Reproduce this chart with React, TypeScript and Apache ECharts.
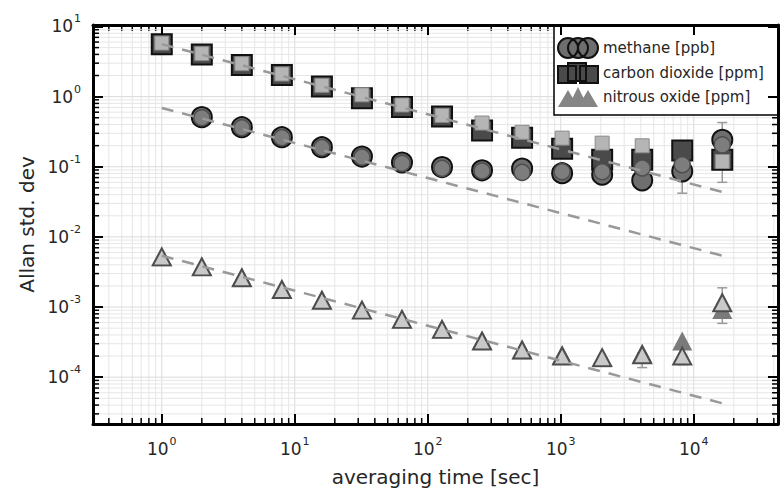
import React, { useEffect, useRef } from 'react';
import * as echarts from 'echarts';

// averaging time [sec]
const tau = [1, 2, 4, 8, 16, 32, 64, 128, 256, 512, 1024, 2048, 4096, 8192, 16384];

// carbon dioxide [ppm] (dark squares = legend series, light squares = second set)
const co2Dark = [5.6, 4.0, 2.83, 2.04, 1.39, 0.95, 0.71, 0.52, 0.33, 0.26, 0.18, 0.126, 0.126, 0.17, 0.126];
const co2Light = [5.8, 4.1, 2.95, 2.1, 1.45, 1.06, 0.76, 0.54, 0.42, 0.31, 0.256, 0.217, 0.199, 0.095, 0.119];

// methane [ppb] (no value at tau = 1)
const ch4Dark = [null, 0.51, 0.367, 0.264, 0.19, 0.14, 0.115, 0.099, 0.089, 0.094, 0.081, 0.077, 0.064, 0.086, 0.242];
const ch4Light = [null, 0.5, 0.36, 0.26, 0.187, 0.137, 0.112, 0.095, 0.087, 0.083, 0.085, 0.085, 0.096, 0.107, 0.205];

// nitrous oxide [ppm]
const n2oDark = [0.0052, 0.0038, 0.0027, 0.0018, 0.00127, 0.00092, 0.00068, 0.00049, 0.00034, 0.000246, 0.00021, 0.00019, 0.00022, 0.000327, 0.000925];
const n2oLight = [0.00519, 0.00374, 0.00261, 0.00178, 0.00125, 0.000903, 0.000667, 0.00048, 0.000327, 0.000244, 0.0002, 0.00019, 0.000209, 0.0002, 0.00115];

// dashed reference lines (tau^-1/2), end points
const fitTau = [1, 16384];
const co2Fit = [5.6, 0.0437];
const ch4Fit = [0.69, 0.0054];
const n2oFit = [0.0054, 0.0000425];

// error bars
const errTau = [4096, 8192, 8192, 16384, 16384];
const errLow = [0.000137, 0.042, 0.000151, 0.06, 0.000585];
const errHigh = [0.00022, 0.1, 0.0002, 0.427, 0.00188];

// axis ranges
const xMin = 0.304;
const xMax = 43000;
const yMin = 2.15e-5;
const yMax = 10.5;

const legendNames = ['methane [ppb]', 'carbon dioxide [ppm]', 'nitrous oxide [ppm]'];

const FONT = 'DejaVu Sans';
const TXT = '#262626';

function gridValues(lo: number, hi: number) {
  const out: number[][] = [];
  for (let e = Math.floor(Math.log10(lo)); e <= Math.ceil(Math.log10(hi)); e++) {
    for (let m = 1; m <= 9; m++) {
      const v = m * Math.pow(10, e);
      if (v > lo && v < hi) out.push([v, m === 1 ? 1 : 0]);
    }
  }
  return out;
}

function pairs(xs: number[], ys: (number | null)[]) {
  const out: number[][] = [];
  xs.forEach((x, i) => {
    const y = ys[i];
    if (y != null) out.push([x, y]);
  });
  return out;
}

function powLabel(v: number) {
  const l = Math.log10(v);
  const e = Math.round(l);
  if (Math.abs(l - e) > 0.01) return '';
  return '{b|10}{s|' + e + '}';
}

const rich = {
  b: { fontSize: 17, fontFamily: FONT, color: TXT, lineHeight: 26 },
  s: { fontSize: 11, fontFamily: FONT, color: TXT, verticalAlign: 'top', padding: [0, 0, 0, 1] },
};

export default function App() {
  const ref = useRef<HTMLDivElement>(null);
  useEffect(() => {
    if (!ref.current) return;
    const chart = echarts.init(ref.current, null, { renderer: 'svg' });

    const xGrid = gridValues(xMin, xMax).map((d) => [d[0], 1, d[1]]);
    const yGrid = gridValues(yMin, yMax).map((d) => [1, d[0], d[1]]);

    const axisCommon = {
      type: 'log',
      logBase: 10,
      z: 10,
      axisLine: { show: true, onZero: false, lineStyle: { color: '#000', width: 3 } },
      axisTick: { show: true, inside: true, length: 10, lineStyle: { color: '#000', width: 2 } },
      splitLine: { show: false },
    };

    const tickLen = 6;
    const gridColorMinor = '#e6e6e6';
    const gridColorMajor = '#dadada';

    const option: any = {
      animation: false,
      backgroundColor: '#fff',
      grid: { left: 93, right: 2, top: 25, bottom: 67, containLabel: false },
      xAxis: [
        {
          ...axisCommon,
          min: xMin,
          max: xMax,
          position: 'bottom',
          name: 'averaging time [sec]',
          nameLocation: 'middle',
          nameGap: 43,
          nameTextStyle: { fontSize: 20, fontFamily: FONT, color: TXT },
          axisLabel: { show: true, margin: 12, formatter: powLabel, rich },
        },
        {
          ...axisCommon,
          min: xMin,
          max: xMax,
          position: 'top',
          axisLabel: { show: false },
        },
      ],
      yAxis: [
        {
          ...axisCommon,
          min: yMin,
          max: yMax,
          position: 'left',
          name: 'Allan std. dev',
          nameLocation: 'middle',
          nameGap: 56,
          nameTextStyle: { fontSize: 20, fontFamily: FONT, color: TXT },
          axisLabel: { show: true, margin: 12, formatter: powLabel, rich },
        },
        {
          ...axisCommon,
          min: yMin,
          max: yMax,
          position: 'right',
          axisLabel: { show: false },
        },
      ],
      legend: {
        orient: 'vertical',
        left: 554,
        top: 25,
        selectedMode: false,
        itemWidth: 40,
        itemHeight: 20,
        itemGap: 3,
        padding: [12, 14, 8, 3],
        backgroundColor: '#fff',
        borderColor: '#000',
        borderWidth: 1.5,
        borderRadius: 0,
        textStyle: { fontFamily: FONT, fontSize: 15, color: TXT },
        data: [
          {
            name: legendNames[0],
            icon: 'path://M0,10a10,10 0 1,0 20,0a10,10 0 1,0 -20,0zM10,10a10,10 0 1,0 20,0a10,10 0 1,0 -20,0zM20,10a10,10 0 1,0 20,0a10,10 0 1,0 -20,0z',
            itemStyle: { color: '#6e6e6e', borderColor: '#111', borderWidth: 2 },
          },
          {
            name: legendNames[1],
            icon: 'path://M0,3h18v17h-18zM10,0h18v18h-18zM22,3h18v17h-18z',
            itemStyle: { color: '#4a4a4a', borderColor: '#111', borderWidth: 2 },
          },
          {
            name: legendNames[2],
            icon: 'path://M0,20L10,3L20,20zM10,20L20,0L30,20zM20,20L30,3L40,20z',
            itemStyle: { color: '#858585', borderColor: '#858585', borderWidth: 0 },
          },
        ],
      },
      series: [
        {
          name: 'xgrid',
          type: 'custom',
          silent: true,
          z: 1,
          xAxisIndex: 0,
          yAxisIndex: 0,
          data: xGrid,
          encode: { x: 0, y: 1 },
          renderItem: (params: any, api: any) => {
            const p = api.coord([api.value(0), 1]);
            const cs = params.coordSys;
            const major = api.value(2) === 1;
            const children: any[] = [
              {
                type: 'line',
                shape: { x1: p[0], y1: cs.y, x2: p[0], y2: cs.y + cs.height },
                style: { stroke: major ? gridColorMajor : gridColorMinor, lineWidth: 1 },
              },
            ];
            if (!major) {
              children.push(
                { type: 'line', shape: { x1: p[0], y1: cs.y + cs.height, x2: p[0], y2: cs.y + cs.height - tickLen }, style: { stroke: '#000', lineWidth: 1.5 } },
                { type: 'line', shape: { x1: p[0], y1: cs.y, x2: p[0], y2: cs.y + tickLen }, style: { stroke: '#000', lineWidth: 1.5 } }
              );
            }
            return { type: 'group', children };
          },
        },
        {
          name: 'ygrid',
          type: 'custom',
          silent: true,
          z: 1,
          xAxisIndex: 0,
          yAxisIndex: 0,
          data: yGrid,
          encode: { x: 0, y: 1 },
          renderItem: (params: any, api: any) => {
            const p = api.coord([1, api.value(1)]);
            const cs = params.coordSys;
            const major = api.value(2) === 1;
            const children: any[] = [
              {
                type: 'line',
                shape: { x1: cs.x, y1: p[1], x2: cs.x + cs.width, y2: p[1] },
                style: { stroke: major ? gridColorMajor : gridColorMinor, lineWidth: 1 },
              },
            ];
            if (!major) {
              children.push(
                { type: 'line', shape: { x1: cs.x, y1: p[1], x2: cs.x + tickLen, y2: p[1] }, style: { stroke: '#000', lineWidth: 1.5 } },
                { type: 'line', shape: { x1: cs.x + cs.width, y1: p[1], x2: cs.x + cs.width - tickLen, y2: p[1] }, style: { stroke: '#000', lineWidth: 1.5 } }
              );
            }
            return { type: 'group', children };
          },
        },
        {
          name: 'errors',
          type: 'custom',
          silent: true,
          z: 2,
          data: errTau.map((t, i) => [t, errLow[i], errHigh[i]]),
          encode: { x: 0, y: [1, 2] },
          renderItem: (params: any, api: any) => {
            const pl = api.coord([api.value(0), api.value(1)]);
            const ph = api.coord([api.value(0), api.value(2)]);
            const w = 5;
            const st = { stroke: '#9a9a9a', lineWidth: 1.5 };
            return {
              type: 'group',
              children: [
                { type: 'line', shape: { x1: pl[0], y1: pl[1], x2: ph[0], y2: ph[1] }, style: st },
                { type: 'line', shape: { x1: pl[0] - w, y1: pl[1], x2: pl[0] + w, y2: pl[1] }, style: st },
                { type: 'line', shape: { x1: ph[0] - w, y1: ph[1], x2: ph[0] + w, y2: ph[1] }, style: st },
              ],
            };
          },
        },
        {
          name: legendNames[1],
          type: 'scatter',
          silent: true,
          z: 3,
          symbol: 'rect',
          symbolSize: 20,
          itemStyle: { color: '#4a4a4a', borderColor: '#111', borderWidth: 2, opacity: 1 },
          data: pairs(tau, co2Dark),
        },
        {
          name: 'carbon dioxide 2',
          type: 'scatter',
          silent: true,
          z: 3,
          symbol: 'rect',
          symbolSize: 14,
          itemStyle: { color: '#b5b5b5', borderColor: '#8a8a8a', borderWidth: 1, opacity: 1 },
          data: pairs(tau, co2Light),
        },
        {
          name: legendNames[2],
          type: 'scatter',
          silent: true,
          z: 3,
          symbol: 'triangle',
          symbolSize: [20, 19],
          itemStyle: { color: '#7a7a7a', borderWidth: 0, opacity: 1 },
          data: pairs(tau, n2oDark),
        },
        {
          name: 'nitrous oxide 2',
          type: 'scatter',
          silent: true,
          z: 3,
          symbol: 'triangle',
          symbolSize: [18, 17],
          itemStyle: { color: '#c9c9c9', borderColor: '#4d4d4d', borderWidth: 2, opacity: 1 },
          data: pairs(tau, n2oLight),
        },
        {
          name: legendNames[0],
          type: 'scatter',
          silent: true,
          z: 4,
          symbol: 'circle',
          symbolSize: 20,
          itemStyle: { color: '#6e6e6e', borderColor: '#111', borderWidth: 2, opacity: 1 },
          data: pairs(tau, ch4Dark),
        },
        {
          name: 'methane 2',
          type: 'scatter',
          silent: true,
          z: 4,
          symbol: 'circle',
          symbolSize: 16,
          itemStyle: { color: '#7d7d7d', borderColor: '#4d4d4d', borderWidth: 1.5, opacity: 1 },
          data: pairs(tau, ch4Light),
        },
        ...[co2Fit, ch4Fit, n2oFit].map((f, i) => ({
          name: 'fit' + i,
          type: 'line',
          silent: true,
          z: 6,
          symbol: 'none',
          lineStyle: { color: '#999', width: 2.5, type: [12, 9] },
          data: pairs(fitTau, f),
        })),
      ],
    };
    chart.setOption(option);
    return () => chart.dispose();
  }, []);
  return (
    <div
      ref={ref}
      style={{ position: 'absolute', left: 0, top: 0, width: 781, height: 492, background: '#fff' }}
    />
  );
}
